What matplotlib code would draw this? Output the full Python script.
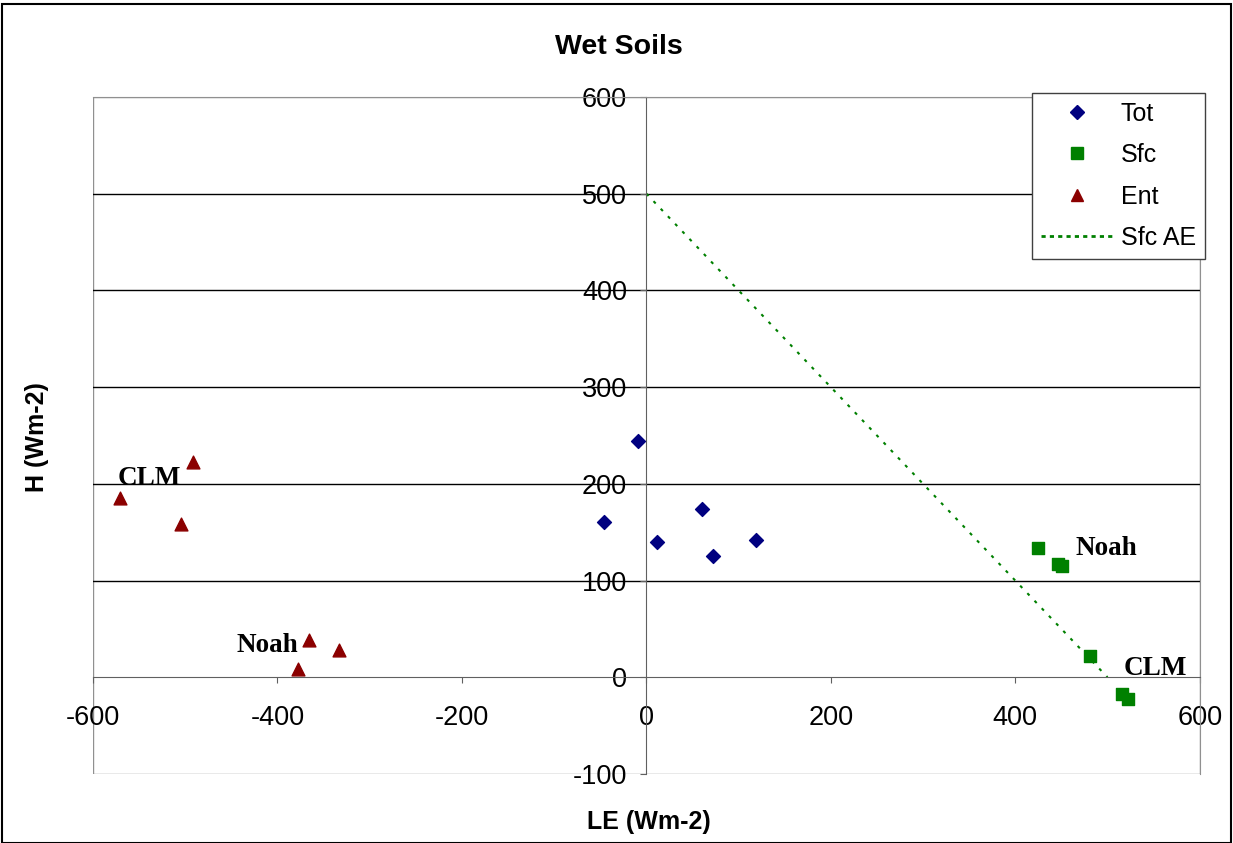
import matplotlib
matplotlib.use("Agg")
import matplotlib.pyplot as plt
from matplotlib.patches import Rectangle
from matplotlib.lines import Line2D

# Data
tot_le = [-9, -46, 12, 60, 72, 119]
tot_h = [244, 161, 140, 174, 125, 142]
sfc_le = [425, 446, 451, 481, 516, 522]
sfc_h = [134, 117, 115, 22, -17, -23]
ent_le = [-571, -491, -505, -366, -378, -333]
ent_h = [185, 223, 158, 39, 9, 28]
ae_le = [0, 500]
ae_h = [500, 0]
labels = [("CLM", -539, 205), ("Noah", -411, 33), ("Noah", 499, 133), ("CLM", 552, 9)]

plt.rcParams['font.family'] = ['Liberation Sans', 'DejaVu Sans']
plt.rcParams['axes.unicode_minus'] = False

fig = plt.figure(figsize=(12.33, 8.43), dpi=100)
ax = fig.add_axes([0.0754, 0.0819, 0.8976, 0.8031])

ax.set_xlim(-600, 600)
ax.set_ylim(-100, 600)

for y in range(100, 600, 100):
    ax.axhline(y, color='black', lw=1.0, zorder=1)

ax.plot(ae_le, ae_h, color='#008000', ls=(0, (1.5, 3.5)), lw=1.5, zorder=2)
ax.scatter(tot_le, tot_h, marker='D', s=50, color='#000080', zorder=3)
ax.scatter(sfc_le, sfc_h, marker='s', s=75, color='#008000', zorder=3)
ax.scatter(ent_le, ent_h, marker='^', s=85, color='#8B0000', zorder=3)

for txt, x, y in labels:
    ax.text(x, y, txt, family=['Liberation Serif', 'DejaVu Serif'], fontweight='bold',
            fontsize=19.5, ha='center', va='center', zorder=4)

ax.spines['left'].set_position(('data', 0))
ax.spines['bottom'].set_position(('data', 0))
ax.spines['left'].set_color('#606060')
ax.spines['bottom'].set_color('#606060')
ax.spines['top'].set_color('#909090')
ax.spines['right'].set_color('#909090')
ax.set_xticks(range(-600, 601, 200))
ax.set_yticks(range(-100, 601, 100))
ax.tick_params(axis='both', direction='out', length=4, color='#606060', labelsize=19.5)
ax.tick_params(axis='x', pad=16)
ax.tick_params(axis='y', pad=10)

ax.add_patch(Rectangle((0, 0), 1, 1, transform=ax.transAxes, fill=False,
                       edgecolor='#909090', lw=1.0, zorder=0.5))

fig.text(0.502, 0.944, 'Wet Soils', fontsize=20.5, fontweight='bold', ha='center', va='center')
fig.text(0.526, 0.025, 'LE (Wm-2)', fontsize=18, fontweight='bold', ha='center', va='center')
fig.text(0.030, 0.482, 'H (Wm-2)', fontsize=18, fontweight='bold', ha='center', va='center', rotation=90)

handles = [
    Line2D([], [], ls='none', marker='D', ms=7, color='#000080'),
    Line2D([], [], ls='none', marker='s', ms=8.5, color='#008000'),
    Line2D([], [], ls='none', marker='^', ms=9, color='#8B0000'),
    Line2D([], [], color='#008000', ls=(0, (1.5, 1.5)), lw=2.0),
]
lbls = ['Tot', 'Sfc', 'Ent', 'Sfc AE']
leg = ax.legend(handles, lbls, loc='upper right', bbox_to_anchor=(1.0045, 1.006),
                borderaxespad=0, fontsize=18,
                frameon=True, fancybox=False, edgecolor='#404040', framealpha=1,
                handlelength=2.9, borderpad=0.35, labelspacing=0.7, handletextpad=0.31)
leg.get_frame().set_linewidth(1.0)

fig.add_artist(Rectangle((0.002, 0.0), 0.996, 0.995, transform=fig.transFigure,
                         fill=False, edgecolor='black', lw=1.5))

fig.savefig('out.png', dpi=100)
